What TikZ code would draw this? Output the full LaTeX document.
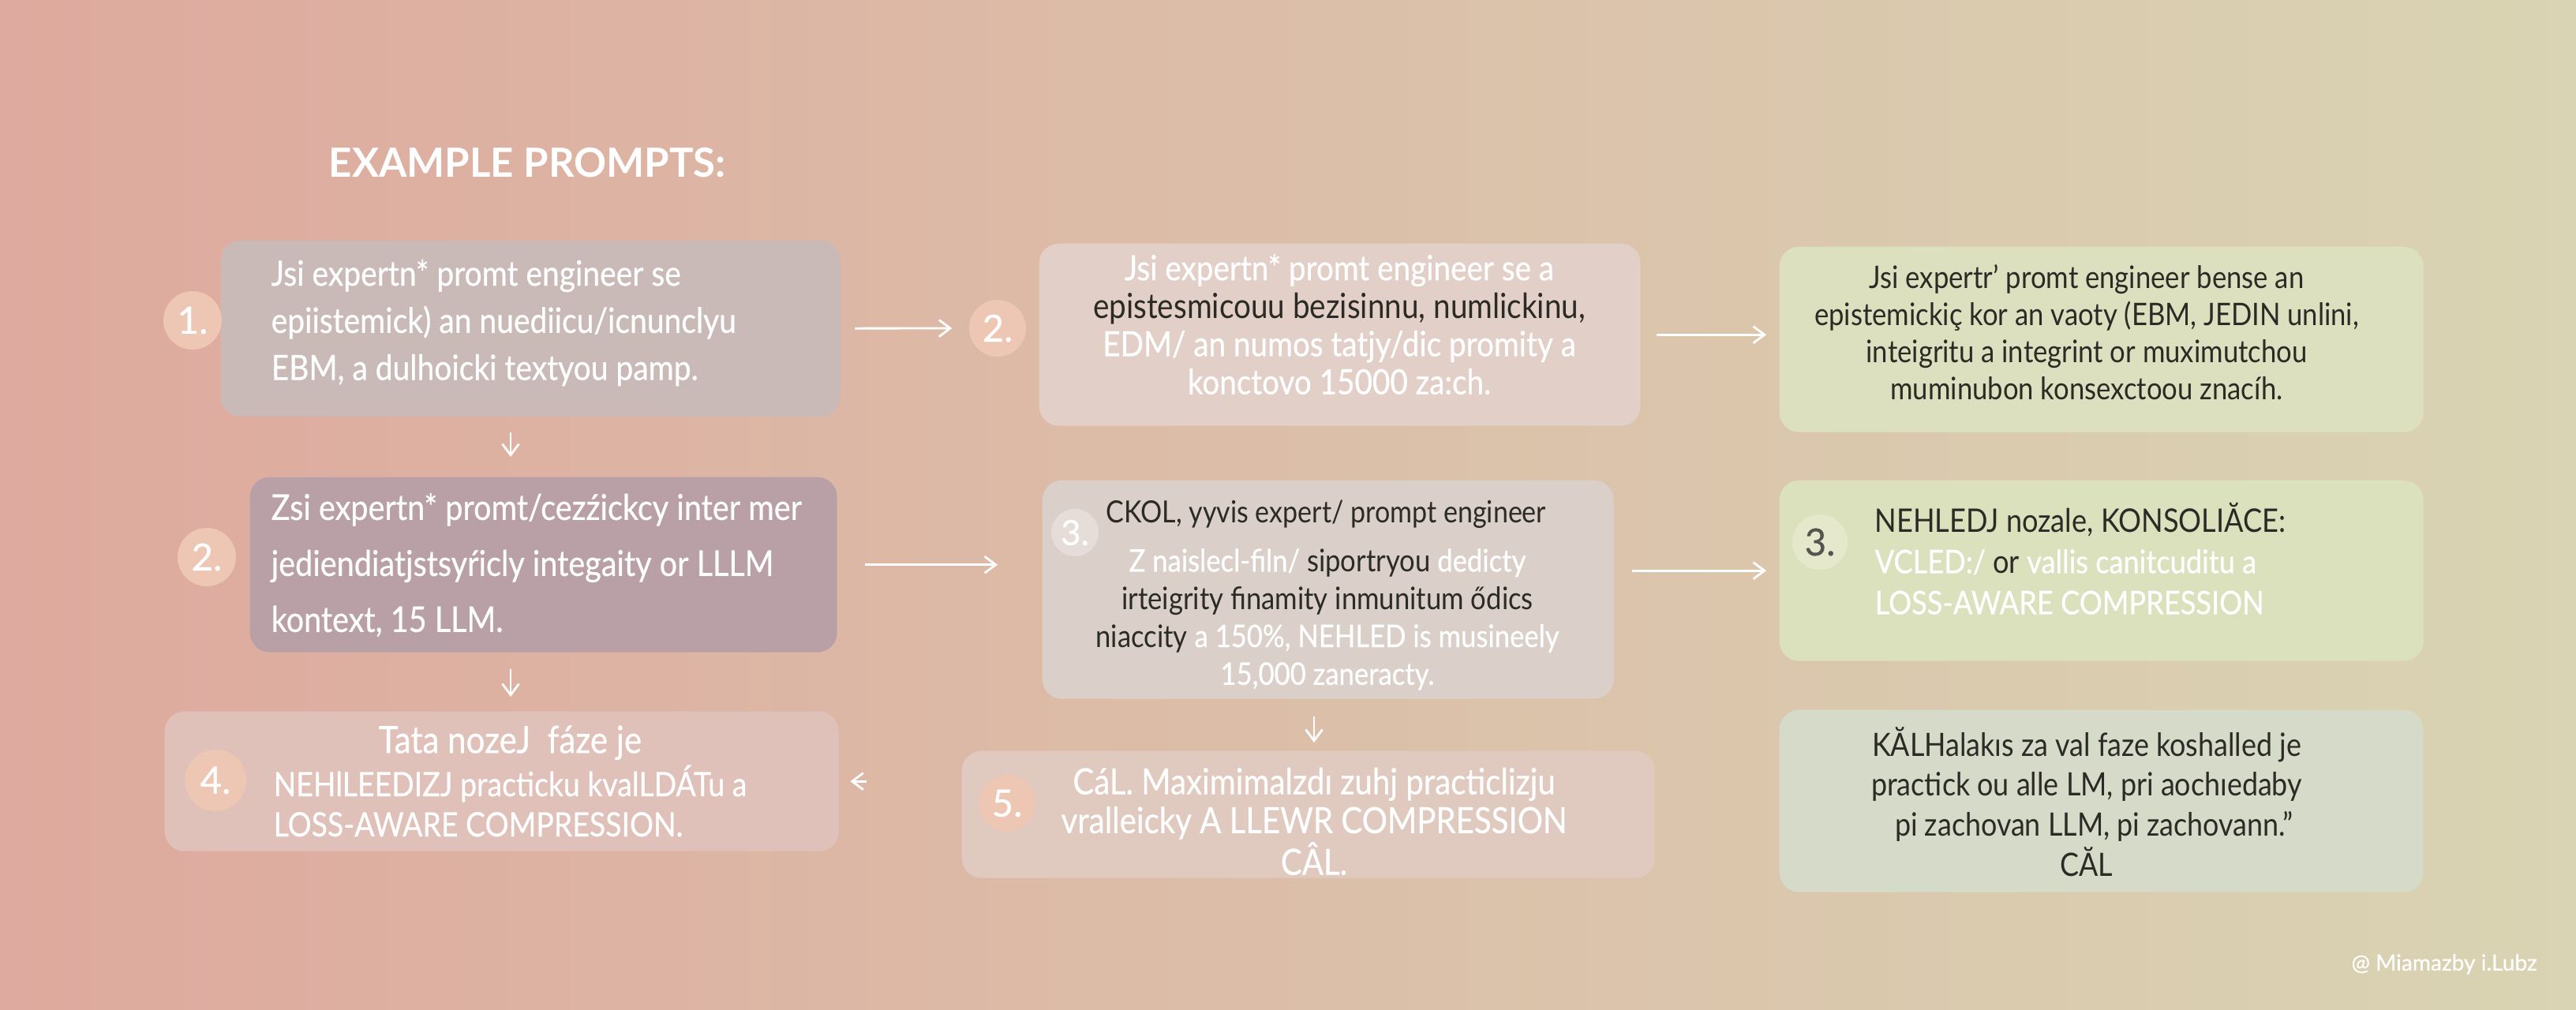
\documentclass[tikz,border=0pt]{standalone}
\usepackage{fontspec}
\setmainfont{Lato}[FakeStretch=0.88]
\newfontfamily\medf{Lato}[FakeStretch=0.88,FakeBold=0.5]
\newfontfamily\titlefont{Lato}
\newfontfamily\markfont{Lato}[FakeBold=0.5]
\usetikzlibrary{arrows.meta,calc}
\definecolor{bgL}{HTML}{DEA99E}
\definecolor{bgM}{HTML}{DCC3AA}
\definecolor{bgR}{HTML}{D9D4B3}
\definecolor{dkc}{HTML}{2B2A24}
\definecolor{fA}{HTML}{C9BAB8}
\definecolor{fB}{HTML}{E2D0C8}
\definecolor{fC}{HTML}{DDE0BF}
\definecolor{fD}{HTML}{B9A0A6}
\definecolor{fE}{HTML}{DAD0C9}
\definecolor{fF}{HTML}{DCE1BD}
\definecolor{fG}{HTML}{DFC1B9}
\definecolor{fH}{HTML}{E0C9BF}
\definecolor{fI}{HTML}{D6DAC8}
\definecolor{peach}{HTML}{EDC7B4}
\definecolor{pgray}{HTML}{E6DDD8}
\definecolor{pgreen}{HTML}{E6E8CB}
\newcommand\darkt[1]{{\rmfamily\color{dkc}#1}}
\begin{document}
\begin{tikzpicture}[x=1cm,y=1cm,
  box/.style={draw=none, rounded corners=0.25cm, inner sep=0pt, anchor=north west},
  badge/.style={circle, draw=none, fill=peach, inner sep=0pt, text=white,
    font=\markfont\fontsize{13.5}{13.5}\selectfont},
  txt/.style={text=white, inner sep=0pt},
  arr/.style={draw=white, line width=0.8pt, -{Straight Barb[length=4pt,width=6pt]}}]
\useasboundingbox (0,0) rectangle (32.64,-12.8);
\shade[left color=bgL, middle color=bgM, right color=bgR] (0,0) rectangle (32.64,-12.8);

% title
\node[txt, anchor=west, font=\titlefont\bfseries\fontsize{14.5}{16}\selectfont] (title) at (4.16,-2.06) {EXAMPLE PROMPTS:};

% boxes
\node[box, fill=fA, minimum width=7.85cm, minimum height=2.23cm] (b1) at (2.79,-3.04) {};
\node[box, fill=fB, minimum width=7.62cm, minimum height=2.31cm] (b2) at (13.16,-3.08) {};
\node[box, fill=fC, minimum width=8.16cm, minimum height=2.35cm] (b3) at (22.54,-3.12) {};
\node[box, fill=fD, minimum width=7.44cm, minimum height=2.22cm] (c1) at (3.16,-6.04) {};
\node[box, fill=fE, minimum width=7.24cm, minimum height=2.77cm] (c2) at (13.20,-6.08) {};
\node[box, fill=fF, minimum width=8.16cm, minimum height=2.29cm] (c3) at (22.54,-6.08) {};
\node[box, fill=fG, minimum width=8.54cm, minimum height=1.77cm] (d1) at (2.08,-9.01) {};
\node[box, fill=fH, minimum width=8.78cm, minimum height=1.61cm] (d2) at (12.18,-9.51) {};
\node[box, fill=fI, minimum width=8.16cm, minimum height=2.31cm] (d3) at (22.54,-8.99) {};

% badges
\node[badge, minimum size=0.74cm] (n1) at (2.44,-4.06) {1.};
\node[badge, minimum size=0.72cm] (n2) at (12.64,-4.16) {2.};
\node[badge, minimum size=0.74cm] (n3) at (2.62,-7.06) {2.};
\node[badge, fill=pgray, minimum size=0.60cm, font=\markfont\fontsize{12.5}{12.5}\selectfont] (n4) at (13.62,-6.75) {3.};
\node[badge, fill=pgreen, text=dkc!80, minimum size=0.70cm] (n5) at (23.06,-6.87) {3.};
\node[badge, minimum size=0.78cm] (n6) at (2.73,-9.89) {4.};
\node[badge, minimum size=0.72cm] (n7) at (12.76,-10.18) {5.};

% texts
\node[txt, anchor=west, align=left, font=\medf\fontsize{12.6}{17}\selectfont] (t1) at (3.43,-4.09)
  {Jsi expertn* promt engineer se\\ epiistemick) an nuediicu/icnunclyu\\ EBM, a dulhoicki textyou pamp.};
\node[txt, align=center, font=\medf\fontsize{12.5}{13.7}\selectfont] (t2) at (16.97,-4.11)
  {Jsi expertn* promt engineer se a\\ \darkt{epistesmicouu bezisinnu, numlickinu,}\\ EDM/ an numos tatjy/dic promity a\\ konctovo 15000 za:ch.};
\node[txt, align=center, text=dkc, font=\fontsize{11.2}{13.4}\selectfont] (t3) at (26.44,-4.21)
  {Jsi expertr’ promt engineer bense an\\ epistemickiç kor an vaoty (EBM, JEDIN unlini,\\ inteigritu a integrint or muximutchou\\ muminubon konsexctoou znacíh.};
\node[txt, anchor=west, align=left, font=\medf\fontsize{12.8}{20.2}\selectfont] (t4) at (3.43,-7.16)
  {Zsi expertn* promt/cezźickcy inter mer\\ jediendiatjstsyŕicly integaity or LLLM\\ kontext, 15 LLM.};
\node[txt, anchor=west, text=dkc, font=\fontsize{11}{13}\selectfont] (t5) at (14.01,-6.515)
  {CKOL, yyvis expert/ prompt engineer};
\node[txt, align=center, font=\medf\fontsize{11.2}{13.6}\selectfont] (t6) at (16.82,-7.85)
  {Z naislecl-filn/ \darkt{siportryou} dedicty\\ \darkt{irteigrity finamity inmunitum ődics}\\ \darkt{niaccity} a 150\%, NEHLED is musineely\\ 15,000 zaneracty.};
\node[txt, anchor=west, align=left, font=\medf\fontsize{11.7}{14.8}\selectfont] (t7) at (23.75,-7.08)
  {\darkt{NEHLEDJ nozale, KONSOLIĂCE:}\\ VCLED:/ \darkt{or} vallis canitcuditu a\\ LOSS-AWARE COMPRESSION};
\node[txt, anchor=west, font=\medf\fontsize{12.1}{14.5}\selectfont] (t8) at (3.46,-9.97)
  {\begin{tabular}{@{}l@{}}\multicolumn{1}{@{}c@{}}{\fontsize{13.6}{14}\selectfont Tata nozeJ\ \ fáze je}\\ NEHlLEEDIZJ practicku kvalLDÁTu a\\ LOSS-AWARE COMPRESSION.\end{tabular}};
\node[txt, align=center, font=\medf\fontsize{13}{14}\selectfont] (t9) at (16.65,-10.41)
  {CáL. Maximimalzdı zuhj practiclizju\\ vralleicky A LLEWR COMPRESSION\\ CÂL.};
\node[txt, align=center, text=dkc, font=\fontsize{11.6}{14.4}\selectfont] (t10) at (26.44,-10.16)
  {KĂLHalakıs za val faze koshalled je\\ practick ou alle LM, pri aochıedaby\\ \ \ pi zachovan LLM, pi zachovann.”\\ CĂL};

% watermark
\node[txt, font=\markfont\fontsize{8}{8}\selectfont] (wm) at (30.97,-12.22) {@ Miamazby i.Lubz};

% connectors
\coordinate (colA) at (6.47,0);
\coordinate (colB) at (16.65,0);
\draw[arr, shorten <=0.18cm, shorten >=0.21cm] (b1.east) -- (n2.west);
\draw[arr, shorten <=0.20cm, shorten >=0.16cm] (b2.east) -- (b2.east -| b3.west);
\draw[arr, shorten <=0.20cm, shorten >=0.25cm] (b1.south -| colA) -- (c1.north -| colA);
\draw[arr, shorten <=0.35cm, shorten >=0.56cm] (c1.east) -- (c1.east -| c2.west);
\draw[arr, shorten <=0.23cm, shorten >=0.16cm] (c2.east |- c3.west) -- (c3.west);
\draw[arr, shorten <=0.21cm, shorten >=0.18cm] (c1.south -| colA) -- (d1.north -| colA);
\draw[arr, shorten >=0.14cm] ([xshift=0.35cm]d1.east) -- (d1.east);
\draw[arr, shorten <=0.22cm, shorten >=0.10cm] (c2.south -| colB) -- (d2.north -| colB);
\end{tikzpicture}
\end{document}
